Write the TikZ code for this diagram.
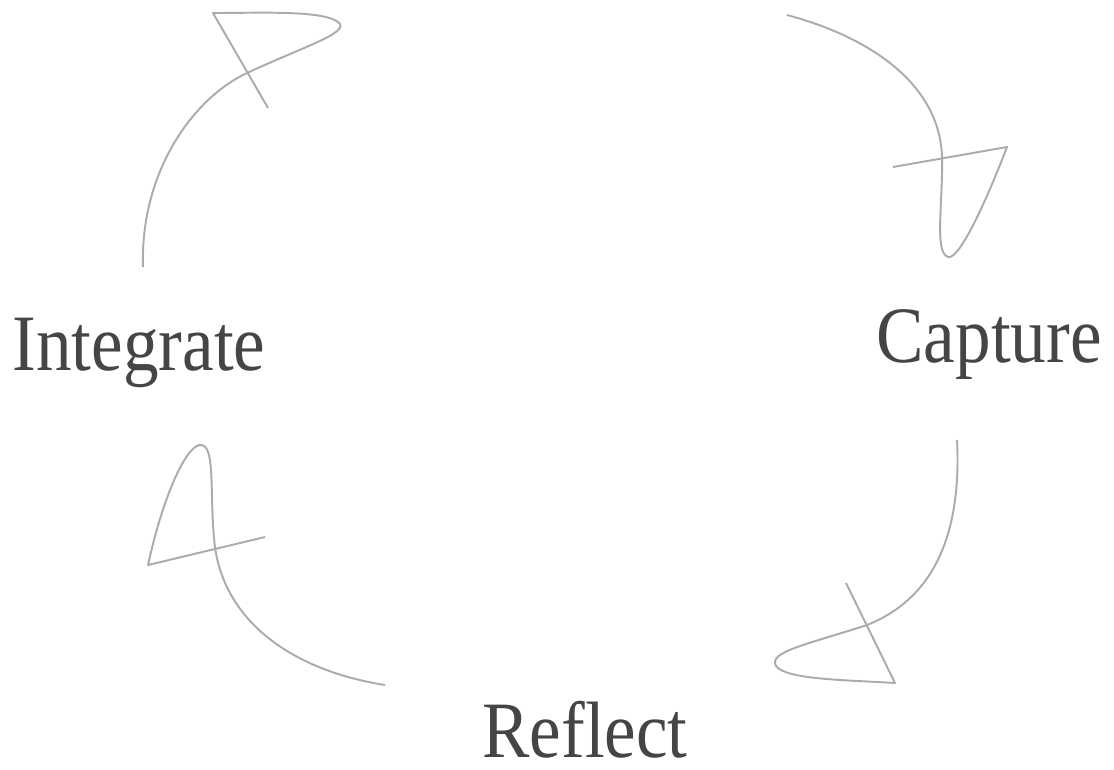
\documentclass[tikz,border=0pt]{standalone}
\usepackage{fontspec}
\setmainfont[FakeStretch=0.89]{Liberation Serif}
\usepackage{tikz}

\definecolor{etape}{HTML}{454545}
\definecolor{fleche}{HTML}{ABABAB}

\begin{document}
\begin{tikzpicture}[x=0.02cm,y=-0.02cm]
        \tikzstyle {etape} = [inner sep=0pt, anchor=base, text=etape, font=\fontsize{45.5pt}{50pt}\selectfont]
        \tikzstyle {boucle} = [draw=fleche, line width=1.1pt, line join=round]
        \useasboundingbox (0,0) rectangle (1114,769);
        % Étapes
        \node (integrate) [etape] at (139,370) {Integrate};
        \node (capture) [etape] at (989,362) {Capture};
        \node (reflect) [etape] at (585,757) {Reflect};
        % Points de départ et pointes
        \coordinate (int_out) at (143,267);
        \coordinate (int_tip) at (213,13);
        \coordinate (cap_in) at (787,15);
        \coordinate (cap_tip) at (1007,147);
        \coordinate (cap_out) at (957,440);
        \coordinate (ref_tip) at (895,683);
        \coordinate (ref_out) at (385,685);
        \coordinate (int_in) at (148,565);
        % Integrate -> Capture
        \draw [boucle] (int_out) .. controls (140,170) and (195,97) .. (247,73)
                .. controls (305,46) and (352,32) .. (338,22)
                .. controls (322,10) and (260,13) .. (int_tip) -- (268,108);
        \draw [boucle] (cap_in) .. controls (880,40) and (940,90) .. (942,157)
                .. controls (943,205) and (934,252) .. (948,257)
                .. controls (958,260) and (982,212) .. (cap_tip) -- (893,167);
        % Capture -> Reflect
        \draw [boucle] (cap_out) .. controls (962,540) and (930,600) .. (867,625)
                .. controls (805,645) and (768,652) .. (776,666)
                .. controls (786,680) and (850,680) .. (ref_tip) -- (846,583);
        % Reflect -> Integrate
        \draw [boucle] (ref_out) .. controls (290,670) and (225,620) .. (215,547)
                .. controls (209,500) and (216,448) .. (202,445)
                .. controls (188,442) and (164,492) .. (int_in) -- (265,537);
\end{tikzpicture}
\end{document}
